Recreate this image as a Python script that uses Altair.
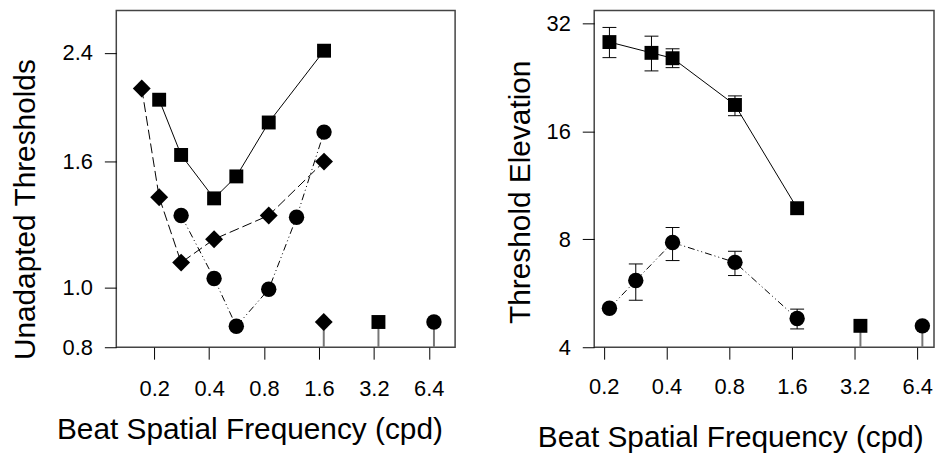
import altair as alt
import pandas as pd

FONT = "Liberation Sans"

# ---------------- Left panel: unadapted thresholds ----------------
l_sq_f = [0.213, 0.281, 0.426, 0.564, 0.849, 1.706]
l_sq_v = [2.014, 1.639, 1.394, 1.513, 1.850, 2.418]
l_di_f = [0.171, 0.213, 0.281, 0.426, 0.849, 1.706]
l_di_v = [2.10, 1.40, 1.097, 1.197, 1.308, 1.599]
l_ci_f = [0.281, 0.426, 0.564, 0.849, 1.206, 1.706]
l_ci_v = [1.308, 1.034, 0.865, 0.993, 1.299, 1.785]
# off-scale markers (no measurable threshold)
l_off_f = [1.70, 3.39, 6.83]
l_off_v = [0.879, 0.879, 0.879]
l_off_shape = ["diamond", "square", "circle"]

# ---------------- Right panel: threshold elevation ----------------
r_sq_f = [0.213, 0.339, 0.428, 0.853, 1.696]
r_sq_v = [28.4, 26.5, 25.6, 18.96, 9.77]
r_sq_lo = [25.7, 23.6, 24.1, 17.7, None]
r_sq_hi = [31.2, 29.5, 27.2, 20.1, None]
r_ci_f = [0.213, 0.285, 0.428, 0.853, 1.696]
r_ci_v = [5.14, 6.14, 7.84, 6.90, 4.81]
r_ci_lo = [None, 5.41, 6.98, 6.34, 4.50]
r_ci_hi = [None, 6.83, 8.63, 7.41, 5.11]
r_off_f = [3.414, 6.77]
r_off_v = [4.59, 4.59]
r_off_shape = ["square", "circle"]

x_ticks = [0.2, 0.4, 0.8, 1.6, 3.2, 6.4]
l_y_ticks = [0.8, 1.0, 1.6, 2.4]
r_y_ticks = [4, 8, 16, 32]

SIZES = {"square": 196, "circle": 240, "diamond": 324}
BLACK = "#000000"
FRAME = "#444444"
STEM = "#777777"


def xy(xdom, ydom, yticks, yfmt, xtitle, ytitle, xlp, xt_x, xt_y, yt_x, yt_y):
    ysc = alt.Scale(type="log", domain=ydom, nice=False, zero=False)
    yax = alt.Axis(
        values=yticks, format=yfmt, title=ytitle, labelPadding=12,
        titleX=yt_x, titleY=yt_y, titleBaseline="alphabetic", titleAlign="center",
        titleAngle=270,
    )
    X = alt.X(
        "f:Q",
        scale=alt.Scale(type="log", domain=xdom, nice=False, zero=False),
        axis=alt.Axis(
            values=x_ticks, format=".1f", title=xtitle, labelPadding=xlp,
            titleX=xt_x, titleY=xt_y, titleBaseline="alphabetic", titleAlign="center",
        ),
    )
    Y = alt.Y("v:Q", scale=ysc, axis=yax)
    return X, Y, ysc, yax


def series_layers(f, v, shape, dash, X, Y):
    df = pd.DataFrame({"f": f, "v": v})
    base = alt.Chart(df)
    line_kw = dict(color=BLACK, strokeWidth=1)
    if dash:
        line_kw["strokeDash"] = dash
    line = base.mark_line(**line_kw).encode(x=X, y=Y)
    pts = base.mark_point(
        shape=shape, filled=True, size=SIZES[shape], color=BLACK, opacity=1, strokeWidth=0
    ).encode(x=X, y=Y)
    return [line, pts]


def offscale_layers(f, v, shapes, ymin, X, Y):
    layers = []
    for fi, vi, sh in zip(f, v, shapes):
        df = pd.DataFrame({"f": [fi], "v": [vi]})
        stem = alt.Chart(df).mark_rule(color=STEM, strokeWidth=2).encode(
            x=X, y=Y, y2=alt.datum(ymin)
        )
        pt = alt.Chart(df).mark_point(
            shape=sh, filled=True, size=SIZES[sh], color=BLACK, opacity=1, strokeWidth=0
        ).encode(x=X, y=Y)
        layers += [stem, pt]
    return layers


def errbar_layers(f, lo, hi, X, Y, ysc, yax):
    rows = [(a, b, c) for a, b, c in zip(f, lo, hi) if b is not None]
    df = pd.DataFrame({"f": [r[0] for r in rows], "v": [r[1] for r in rows], "hi": [r[2] for r in rows]})
    base = alt.Chart(df)
    Yhi = alt.Y("hi:Q", scale=ysc, axis=yax)
    rule = base.mark_rule(color=BLACK, strokeWidth=1).encode(x=X, y=Y, y2="hi:Q")
    t1 = base.mark_tick(orient="horizontal", size=14, thickness=1, color=BLACK, opacity=1).encode(x=X, y=Y)
    t2 = base.mark_tick(orient="horizontal", size=14, thickness=1, color=BLACK, opacity=1).encode(x=X, y=Yhi)
    return [rule, t1, t2]


# Left
LX, LY, lysc, lyax = xy([0.124, 8.92], [0.8, 2.81], l_y_ticks, ".1f",
                        "Beat Spatial Frequency (cpd)", "Unadapted Thresholds",
                        20, 134, 92, -82, 200)
left_layers = []
left_layers += series_layers(l_sq_f, l_sq_v, "square", None, LX, LY)
left_layers += series_layers(l_di_f, l_di_v, "diamond", [10, 4], LX, LY)
left_layers += series_layers(l_ci_f, l_ci_v, "circle", [7, 3, 1, 3, 1, 3], LX, LY)
left_layers += offscale_layers(l_off_f, l_off_v, l_off_shape, 0.8, LX, LY)
left = alt.layer(*left_layers).properties(width=341, height=339)

# Right
RX, RY, rysc, ryax = xy([0.180, 7.70], [4, 34.8], r_y_ticks, "d",
                        "Beat Spatial Frequency (cpd)", "Threshold Elevation",
                        18, 137, 100, -65, 182.5)
right_layers = []
right_layers += series_layers(r_sq_f, r_sq_v, "square", None, RX, RY)
right_layers += errbar_layers(r_sq_f, r_sq_lo, r_sq_hi, RX, RY, rysc, ryax)
right_layers += errbar_layers(r_ci_f, r_ci_lo, r_ci_hi, RX, RY, rysc, ryax)
right_layers += series_layers(r_ci_f, r_ci_v, "circle", [7, 3, 1, 3, 1, 3], RX, RY)
right_layers += offscale_layers(r_off_f, r_off_v, r_off_shape, 4, RX, RY)
right = alt.layer(*right_layers).properties(width=342, height=339)

chart = (
    alt.hconcat(left, right, spacing=140, bounds="flush")
    .properties(padding={"left": 2, "top": 0, "right": 0, "bottom": 0})
    .configure_view(stroke=FRAME, strokeWidth=1.5)
    .configure_axis(
        labelFont=FONT, labelFontSize=22, labelColor=BLACK,
        titleFont=FONT, titleFontSize=30, titleFontWeight="normal", titleColor=BLACK,
        tickColor=BLACK, tickSize=12, tickWidth=1, domain=False, grid=False,
    )
)

chart.save("out.html", embed_options={"renderer": "svg", "actions": False})
